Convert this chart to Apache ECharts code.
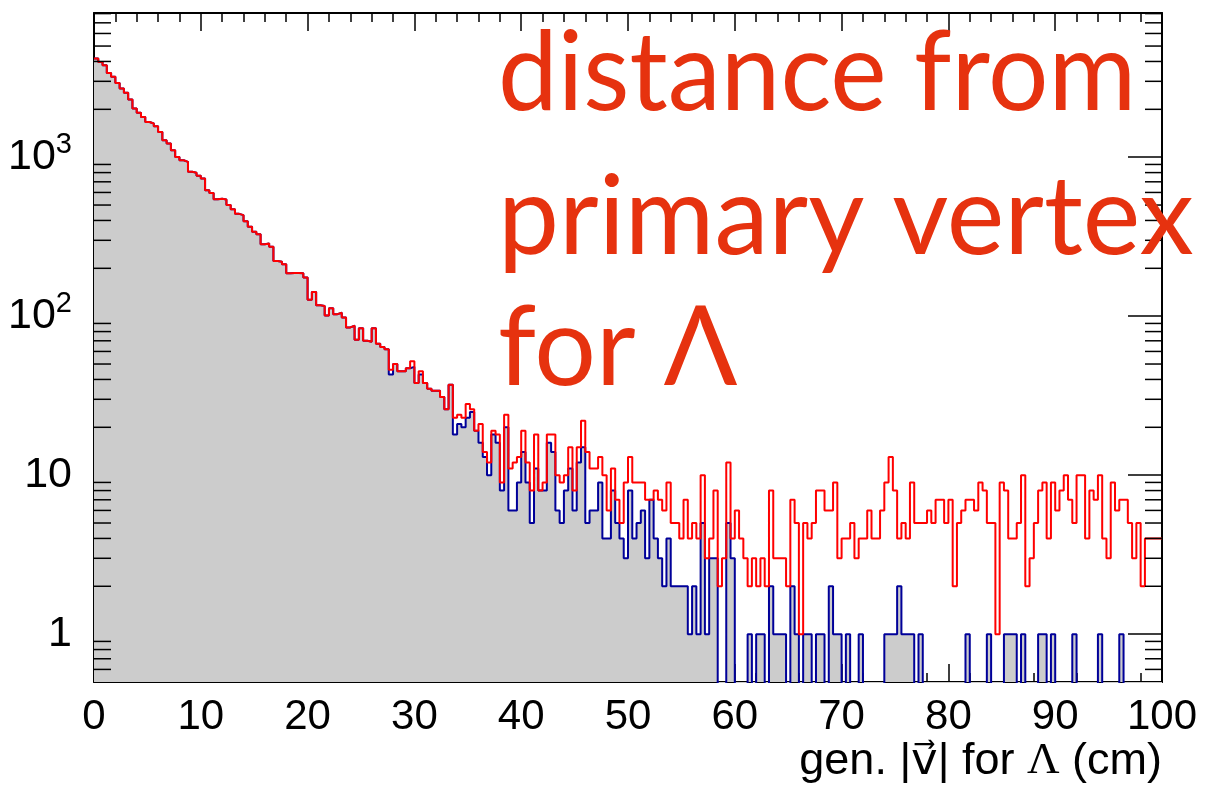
<!DOCTYPE html>
<html>
<head>
<meta charset="utf-8">
<script src="https://cdn.jsdelivr.net/npm/echarts@6/dist/echarts.min.js"></script>
<style>
html,body{margin:0;padding:0;background:#ffffff;}
#chart{width:1206px;height:793px;}
</style>
</head>
<body>
<div id="chart"></div>
<script>
// ---- data (counts per 0.4 cm bin, 0..100 cm) ----
const binWidth = 0.4;
const xMin = 0;
const xMax = 100;

const redCounts = [
4180,3975,3790,3390,3200,2930,2700,2540,2305,2025,1900,1787,1666,1630,1566,1442,1279,1218,1106,1004,
957,935,809,798,763,735,620,596,544,547,542,500,470,440,432,395,365,
339,327,283,287,273,222,220,212,186,187,187,186,175,127,142,117,116,101,112,103,105,98,85,87,71,84,70,69,84,67,64,62,46,50,45,45,47,52,38,45,38,35,34,34,31,26,37,
23,24,23,28,26,19,21,14,12,19,18,9,24,11,12,13,19,12,8,18,8,9,18,18,10,9,10,15,8,15,22,14,11,11,13,10,6,11,7,5,9,13,
9,9,9,7,7,8,7,6,9,5,5,4,7,4,5,4,10,3,4,8,2,3,12,4,6,4,3,2,3,2,3,2,8,3,3,3,2,7,5,1,5,4,
5,8,8,6,6,9,3,4,4,5,3,4,4,6,4,4,6,9,13,8,4,5,4,9,5,5,5,6,5,7,7,5,7,2,5,6,7,7,6,9,8,
5,5,1,9,8,4,4,5,10,2,3,5,8,9,4,9,6,8,10,7,5,10,10,4,8,7,10,4,3,9,6,7,7,5,3,5,2,4,4,4,4
];

const blueCounts = [
4180,3975,3790,3390,3200,2930,2700,2540,2305,2025,1900,1787,1666,1630,1566,1442,1279,1218,1106,1004,
957,935,809,798,763,735,620,596,544,547,542,500,470,440,432,395,365,
339,327,283,287,273,222,220,212,186,187,187,186,175,127,142,117,116,101,112,103,105,98,85,87,71,84,70,69,84,67,64,62,43,50,45,45,47,48,38,43,38,35,34,34,31,26,37,
18,21,20,23,25,19,16,13,10,18,16,8,20,6,6,9,14,9,5,11,8,8,16,14,6,5,8,11,6,12,15,5,6,6,9,4,4,8,5,4,3,8,
4,5,6,3,7,4,3,2,4,2,2,2,2,1,2,1,5,1,3,3,0,0,5,3,0,0,0,1,0,1,1,0,2,1,1,1,0,2,1,0,1,1,
0,1,1,0,2,1,1,0,1,0,0,1,0,0,0,0,0,1,1,1,2,1,1,1,0,1,0,0,0,0,0,0,0,0,0,0,1,0,0,0,0,
1,0,0,0,1,1,1,0,1,0,0,0,1,1,0,1,0,0,0,0,1,0,0,0,0,0,1,0,0,0,0,1,0,0,0,0,0,0,0,0,0
];

const yMin = 0.5;
const yMax = 8070;
const yMinorTicks = [0.6,0.7,0.8,0.9,2,3,4,5,6,7,8,9,20,30,40,50,60,70,80,90,200,300,400,500,600,700,800,900,2000,3000,4000,5000,6000,7000,8000];
const xTitleParts = ['gen. |v\u20D7| for ', '\u039B', ' (cm)'];
const titleLines = ['distance from', 'primary vertex', 'for \u039B'];

// ---- build step-histogram point lists ----
const FLOOR = 0.02; // empty bins drawn below the visible log range
function histPoints(counts) {
  const pts = counts.map((c, i) => [xMin + i * binWidth, c > 0 ? c : FLOOR]);
  const last = counts[counts.length - 1];
  pts.push([xMax, last > 0 ? last : FLOOR]);
  return pts;
}

const FONT = '"Liberation Sans", Arial, Helvetica, sans-serif';
const chart = echarts.init(document.getElementById('chart'), null, {renderer: 'canvas'});

function yLabel(v) {
  const e = Math.log10(v);
  const k = Math.round(e);
  if (Math.abs(e - k) > 1e-6 || k < 0) return '';
  if (k === 0) return '{b|1}';
  if (k === 1) return '{b|10}';
  return '{b|10}{s|' + k + '}';
}

const axisLineStyle = {color: '#000', width: 2};
const tickStyle = {color: '#000', width: 1.5};
const TITLE_FONT = 'Lato, sans-serif';
const TITLE_COLOR = '#e6320f';

const option = {
  animation: false,
  backgroundColor: '#ffffff',
  grid: {left: 94, top: 13, width: 1068, height: 669, containLabel: false},
  xAxis: [
    {
      type: 'value', position: 'bottom', min: xMin, max: xMax, interval: 10,
      axisLine: {show: true, onZero: false, lineStyle: axisLineStyle},
      axisTick: {show: true, inside: true, length: 18, lineStyle: tickStyle},
      minorTick: {show: true, splitNumber: 5, length: 9, lineStyle: tickStyle},
      splitLine: {show: false}, minorSplitLine: {show: false},
      axisLabel: {show: true, color: '#000', fontSize: 42, fontFamily: FONT, margin: 14}
    },
    {
      type: 'value', position: 'top', min: xMin, max: xMax, interval: 10,
      axisLine: {show: true, onZero: false, lineStyle: axisLineStyle},
      axisTick: {show: true, inside: true, length: 18, lineStyle: tickStyle},
      minorTick: {show: true, splitNumber: 5, length: 9, lineStyle: tickStyle},
      splitLine: {show: false}, minorSplitLine: {show: false},
      axisLabel: {show: false}
    }
  ],
  yAxis: [
    {
      type: 'log', logBase: 10, position: 'left', min: yMin, max: yMax,
      axisLine: {show: true, onZero: false, lineStyle: axisLineStyle},
      axisTick: {show: true, inside: true, length: 34, lineStyle: tickStyle},
      splitLine: {show: false},
      axisLabel: {
        show: true, margin: 22, formatter: yLabel, showMinLabel: true, showMaxLabel: true,
        rich: {
          b: {fontSize: 43, fontFamily: FONT, color: '#000'},
          s: {fontSize: 29, fontFamily: FONT, color: '#000', verticalAlign: 'top', padding: [0, 0, 24, 0]}
        }
      }
    },
    {
      type: 'log', logBase: 10, position: 'right', min: yMin, max: yMax,
      axisLine: {show: true, onZero: false, lineStyle: axisLineStyle},
      axisTick: {show: true, inside: true, length: 34, lineStyle: tickStyle},
      splitLine: {show: false},
      axisLabel: {show: false}
    }
  ],
  series: [
    {
      name: 'blue', type: 'line', xAxisIndex: 0, yAxisIndex: 0,
      data: histPoints(blueCounts), step: 'end', symbol: 'none', clip: true,
      lineStyle: {color: '#000099', width: 2},
      areaStyle: {color: '#cccccc', opacity: 1, origin: 'start'},
      z: 2
    },
    {
      name: 'red', type: 'line', xAxisIndex: 0, yAxisIndex: 0,
      data: histPoints(redCounts), step: 'end', symbol: 'none', clip: true,
      lineStyle: {color: '#ff0000', width: 2},
      z: 3
    },
    {
      name: 'yminor', type: 'custom', xAxisIndex: 0, yAxisIndex: 0,
      data: yMinorTicks.map(v => [xMin, v]),
      clip: false, z: 5, silent: true,
      renderItem: function (params, api) {
        const v = api.value(1);
        const l = api.coord([xMin, v]);
        const r = api.coord([xMax, v]);
        return {
          type: 'group',
          children: [
            {type: 'line', shape: {x1: l[0], y1: l[1], x2: l[0] + 17, y2: l[1]}, style: {stroke: '#000', lineWidth: 1.5}},
            {type: 'line', shape: {x1: r[0] - 17, y1: r[1], x2: r[0], y2: r[1]}, style: {stroke: '#000', lineWidth: 1.5}}
          ]
        };
      }
    }
  ],
  graphic: [
    {
      type: 'text', right: 44, top: 739, z: 10,
      style: {
        text: '{a|' + xTitleParts[0] + '}{g|' + xTitleParts[1] + '}{a|' + xTitleParts[2] + '}',
        rich: {
          a: {fontSize: 45, fontFamily: '"Liberation Sans", "DejaVu Sans", sans-serif', fill: '#000'},
          g: {fontSize: 45, fontFamily: '"Liberation Serif", "DejaVu Serif", serif', fill: '#000'}
        }
      }
    },
    {type: 'text', x: 498, y: 20, scaleX: 0.97, z: 10, style: {text: titleLines[0], fontSize: 110, fontFamily: TITLE_FONT, fill: TITLE_COLOR}},
    {type: 'text', x: 498, y: 164, scaleX: 0.99, z: 10, style: {text: titleLines[1], fontSize: 110, fontFamily: TITLE_FONT, fill: TITLE_COLOR}},
    {type: 'text', x: 498, y: 295, scaleX: 0.99, z: 10, style: {text: titleLines[2], fontSize: 110, fontFamily: TITLE_FONT, fill: TITLE_COLOR}}
  ]
};
chart.setOption(option);
</script>
</body>
</html>
